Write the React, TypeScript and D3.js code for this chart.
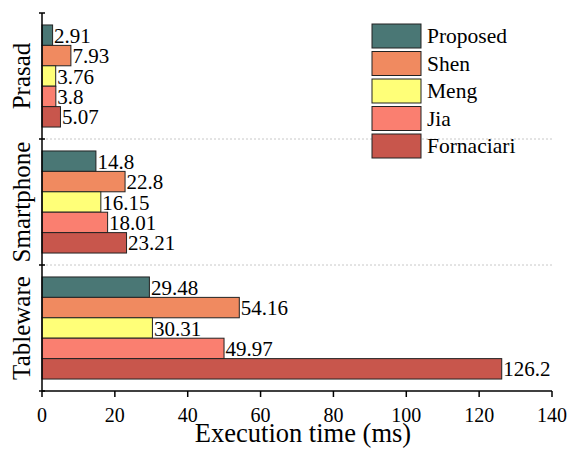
import React from 'react';
import * as d3 from 'd3';

const categories = ['Prasad', 'Smartphone', 'Tableware'];
const methods = ['Proposed', 'Shen', 'Meng', 'Jia', 'Fornaciari'];
const colors = ['#4a7775', '#f08a60', '#ffff78', '#fa7f70', '#c8564c'];

// execution time per method, one array per category
const prasad = [2.91, 7.93, 3.76, 3.8, 5.07];
const smartphone = [14.8, 22.8, 16.15, 18.01, 23.21];
const tableware = [29.48, 54.16, 30.31, 49.97, 126.2];
const valueLabels = [
  ['2.91', '7.93', '3.76', '3.8', '5.07'],
  ['14.8', '22.8', '16.15', '18.01', '23.21'],
  ['29.48', '54.16', '30.31', '49.97', '126.2'],
];
const xTicks = [0, 20, 40, 60, 80, 100, 120, 140];

const width = 570;
const height = 452;
const left = 42;
const right = 552;
const top = 13;
const bottom = 391;
const font = '"Liberation Serif", "Times New Roman", serif';

const App = () => {
  const series = [prasad, smartphone, tableware];

  const x = d3.scaleLinear().domain([0, 140]).range([left, right]);
  const yGroup = d3.scaleBand().domain(categories).range([top, bottom]).padding(0);
  const bw = yGroup.bandwidth();
  const yInner = d3.scaleBand().domain(methods).range([bw * 0.095, bw * 0.905]).padding(0);

  const bounds = [top, ...categories.map(c => (yGroup(c) as number) + bw)];

  return (
    <svg width={width} height={height} style={{ position: 'absolute', left: 0, top: 0 }} fontFamily={font}>
      {/* separators */}
      {bounds.slice(1, -1).map((b, i) => (
        <line key={i} x1={left} x2={right} y1={b} y2={b} stroke="#c8c8c8" strokeDasharray="2,2" />
      ))}

      {categories.map((c, ci) => (
        <g key={c} transform={`translate(0,${yGroup(c)})`}>
          {series[ci].map((v, i) => {
            const y0 = yInner(methods[i]) as number;
            const h = yInner.bandwidth();
            return (
              <g key={i}>
                <rect x={x(0)} y={y0} width={x(v) - x(0)} height={h}
                  fill={colors[i]} stroke="#222" strokeWidth={1} />
                <text x={x(v) + 1.5} y={y0 + h / 2 + 7.5} fontSize={21} fill="#000">
                  {valueLabels[ci][i]}
                </text>
              </g>
            );
          })}
          <text transform={`translate(30,${bw / 2}) rotate(-90)`} textAnchor="middle" fontSize={25}>
            {c}
          </text>
        </g>
      ))}

      {/* y axis */}
      <line x1={left} x2={left} y1={top} y2={bottom} stroke="#000" strokeWidth={1.5} />
      {bounds.map((b, i) => (
        <line key={i} x1={left - 3} x2={left + 3} y1={b} y2={b} stroke="#000" strokeWidth={1.5} />
      ))}

      {/* x axis */}
      <line x1={left} x2={right} y1={bottom} y2={bottom} stroke="#000" strokeWidth={1.5} />
      {xTicks.map(t => (
        <g key={t} transform={`translate(${x(t)},${bottom})`}>
          <line y1={0} y2={6} stroke="#000" strokeWidth={1.5} />
          <text y={31} textAnchor="middle" fontSize={20}>{t}</text>
        </g>
      ))}
      <text x={(left + right) / 2 + 6} y={442} textAnchor="middle" fontSize={26.5}>Execution time (ms)</text>

      {/* legend */}
      {methods.map((m, i) => (
        <g key={m} transform={`translate(372,${24 + i * 27.5})`}>
          <rect width={49} height={24} fill={colors[i]} stroke="#222" strokeWidth={1} />
          <text x={55} y={19} fontSize={21.5}>{m}</text>
        </g>
      ))}
    </svg>
  );
};

export default App;
